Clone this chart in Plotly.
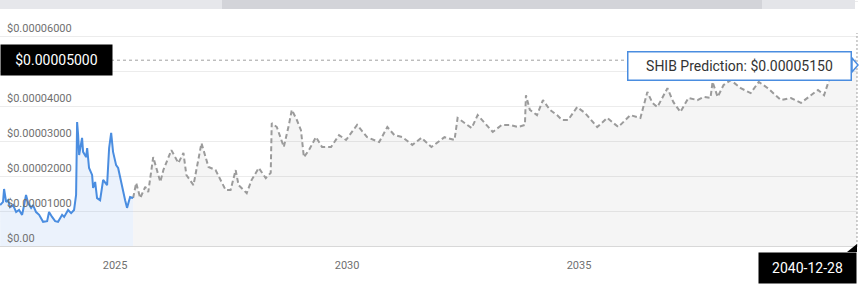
import plotly.graph_objects as go

# ---------------- data ----------------
hist_dates = [
    "2022-07-11", "2022-08-03", "2022-08-11", "2022-08-27", "2022-09-12", "2022-09-27",
    "2022-10-21", "2022-11-14", "2022-12-07", "2022-12-31", "2023-01-08", "2023-01-31",
    "2023-02-16", "2023-03-12", "2023-03-27", "2023-04-20", "2023-05-14", "2023-06-14",
    "2023-07-16", "2023-07-31", "2023-08-24", "2023-09-17", "2023-10-10", "2023-11-11",
    "2023-11-27", "2023-12-28", "2024-01-21", "2024-02-13", "2024-02-29", "2024-03-08",
    "2024-03-16", "2024-03-24", "2024-04-16", "2024-04-24", "2024-05-18", "2024-05-26",
    "2024-06-10", "2024-07-04", "2024-07-12", "2024-07-28", "2024-08-12", "2024-09-05",
    "2024-09-29", "2024-10-30", "2024-11-15", "2024-12-01", "2024-12-16", "2025-01-09",
    "2025-01-25", "2025-02-25", "2025-03-21", "2025-04-05", "2025-04-29", "2025-05-23",
]
hist_values = [
    1.17e-5, 1.26e-5, 1.63e-5, 1.26e-5, 1.31e-5, 1.11e-5,
    1.17e-5, 0.97e-5, 1.03e-5, 0.89e-5, 1.03e-5, 1.46e-5,
    1.23e-5, 1.09e-5, 1.17e-5, 0.97e-5, 0.89e-5, 0.69e-5,
    0.71e-5, 0.97e-5, 0.83e-5, 0.71e-5, 0.69e-5, 0.89e-5,
    0.83e-5, 1.03e-5, 0.94e-5, 1.03e-5, 1.46e-5, 3.54e-5,
    3.17e-5, 2.60e-5, 3.09e-5, 2.69e-5, 2.54e-5, 2.80e-5,
    2.23e-5, 2.03e-5, 1.66e-5, 1.83e-5, 1.37e-5, 1.31e-5,
    1.89e-5, 1.74e-5, 2.80e-5, 3.23e-5, 2.69e-5, 2.31e-5,
    2.23e-5, 1.66e-5, 1.31e-5, 1.09e-5, 1.40e-5, 1.37e-5,
]

pred_dates = [
    "2025-05-23", "2025-06-16", "2025-07-18", "2025-08-26", "2025-09-19", "2025-10-28",
    "2025-12-23", "2026-01-16", "2026-03-20", "2026-05-14", "2026-06-23", "2026-07-16",
    "2026-09-10", "2026-11-12", "2027-01-06", "2027-03-03", "2027-05-21", "2027-06-29",
    "2027-08-08", "2027-08-31", "2027-11-03", "2027-12-12", "2028-02-06", "2028-04-01",
    "2028-05-10", "2028-05-18", "2028-06-27", "2028-08-21", "2028-09-30", "2028-10-23",
    "2028-12-02", "2029-01-03", "2029-01-26", "2029-03-07", "2029-05-01", "2029-06-18",
    "2029-08-28", "2029-10-30", "2029-12-24", "2030-03-21", "2030-06-08", "2030-09-11",
    "2030-11-14", "2031-01-08", "2031-03-12", "2031-05-30", "2031-08-09", "2031-10-27",
    "2032-02-07", "2032-04-26", "2032-05-20", "2032-07-30", "2032-09-08", "2032-10-25",
    "2033-01-04", "2033-02-21", "2033-05-03", "2033-07-05", "2033-09-06", "2033-11-01",
    "2033-11-09", "2033-12-10", "2034-02-04", "2034-03-23", "2034-05-17", "2034-07-12",
    "2034-08-20", "2034-10-07", "2034-12-17", "2035-02-18", "2035-05-24", "2035-08-11",
    "2035-11-06", "2036-02-09", "2036-04-28", "2036-06-22", "2036-08-01", "2036-09-09",
    "2036-11-27", "2037-01-13", "2037-03-09", "2037-05-11", "2037-07-21", "2037-09-07",
    "2037-11-01", "2037-11-17", "2037-12-27", "2038-02-12", "2038-04-09", "2038-06-27",
    "2038-09-13", "2038-11-16", "2039-01-26", "2039-05-09", "2039-07-27", "2039-10-14",
    "2040-02-25", "2040-04-13", "2040-05-22", "2040-06-07", "2040-12-28",
]
pred_values = [
    1.37e-5, 1.80e-5, 1.37e-5, 1.69e-5, 1.54e-5, 2.54e-5,
    1.83e-5, 2.17e-5, 2.74e-5, 2.37e-5, 2.66e-5, 2.03e-5,
    1.74e-5, 2.94e-5, 2.26e-5, 2.17e-5, 1.60e-5, 1.60e-5,
    2.17e-5, 1.74e-5, 1.51e-5, 1.89e-5, 2.23e-5, 1.94e-5,
    2.09e-5, 3.51e-5, 3.40e-5, 2.83e-5, 3.46e-5, 3.89e-5,
    3.60e-5, 3.31e-5, 2.54e-5, 2.74e-5, 3.11e-5, 2.83e-5,
    2.83e-5, 3.17e-5, 3.03e-5, 3.46e-5, 3.11e-5, 2.97e-5,
    3.40e-5, 3.17e-5, 3.11e-5, 2.89e-5, 3.09e-5, 2.83e-5,
    3.11e-5, 3.03e-5, 3.66e-5, 3.46e-5, 3.37e-5, 3.74e-5,
    3.46e-5, 3.26e-5, 3.46e-5, 3.46e-5, 3.40e-5, 3.46e-5,
    4.31e-5, 3.89e-5, 3.74e-5, 4.17e-5, 3.89e-5, 3.74e-5,
    3.60e-5, 3.60e-5, 3.97e-5, 3.80e-5, 3.40e-5, 3.66e-5,
    3.40e-5, 3.74e-5, 3.66e-5, 4.40e-5, 4.09e-5, 3.97e-5,
    4.51e-5, 4.11e-5, 3.83e-5, 4.23e-5, 4.17e-5, 4.26e-5,
    4.23e-5, 4.69e-5, 4.26e-5, 4.60e-5, 4.74e-5, 4.51e-5,
    4.37e-5, 4.69e-5, 4.51e-5, 4.17e-5, 4.23e-5, 4.09e-5,
    4.46e-5, 4.31e-5, 4.74e-5, 5.11e-5, 5.15e-5,
]

# $0.00005000 grid label is covered by the crosshair label in the reference
y_tick_values = [0, 1e-5, 2e-5, 3e-5, 4e-5, 6e-5]
y_tick_labels = ["$0.00", "$0.00001000", "$0.00002000", "$0.00003000",
                 "$0.00004000", "$0.00006000"]
x_tick_values = ["2025-01-01", "2030-01-01", "2035-01-01"]
x_tick_labels = ["2025", "2030", "2035"]

tooltip_date = "2040-12-28"
tooltip_value = 5.15e-5
tooltip_text = "SHIB Prediction: $0.00005150"
crosshair_value = 5.31e-5
crosshair_label = "$0.00005000"

# ---------------- layout helpers ----------------
W, H = 860, 290
ML, MR, MT, MB = 0, 2, 0, 44
PW, PH = W - ML - MR, H - MT - MB
FONT = "Roboto, 'Open Sans', sans-serif"


def px(x):
    return (x - ML) / PW


def py(y):
    return (MT + PH - y) / PH


fig = go.Figure()

fig.add_trace(go.Scatter(
    x=pred_dates, y=pred_values, mode="lines",
    line=dict(color="#9b9b9b", width=2, dash="5px,3px"),
    fill="tozeroy", fillcolor="rgba(0,0,0,0.04)",
    hoverinfo="skip", showlegend=False,
))
fig.add_trace(go.Scatter(
    x=hist_dates, y=hist_values, mode="lines",
    line=dict(color="#4a8de0", width=2),
    fill="tozeroy", fillcolor="rgba(74,141,224,0.11)",
    hoverinfo="skip", showlegend=False,
))

shapes = []
# navigator scrollbar strip at top
shapes.append(dict(type="rect", xref="paper", yref="paper", x0=px(0), x1=px(222),
                   y0=py(9), y1=py(0), fillcolor="#e6e7eb", line_width=0, layer="above"))
shapes.append(dict(type="rect", xref="paper", yref="paper", x0=px(222), x1=px(762),
                   y0=py(9), y1=py(0), fillcolor="#d3d4d9", line_width=0, layer="above"))
shapes.append(dict(type="rect", xref="paper", yref="paper", x0=px(762), x1=px(855),
                   y0=py(9), y1=py(0), fillcolor="#e4e5e9", line_width=0, layer="above"))
# crosshairs
shapes.append(dict(type="line", xref="paper", yref="y", x0=px(111), x1=px(856),
                   y0=crosshair_value, y1=crosshair_value,
                   line=dict(color="#a0a0a0", width=1, dash="3px,3px"), layer="above"))
shapes.append(dict(type="line", xref="x", yref="paper", x0=tooltip_date, x1=tooltip_date,
                   y0=0, y1=py(33),
                   line=dict(color="#a0a0a0", width=1, dash="2px,2px"), layer="above"))
# date label notch
shapes.append(dict(type="path", xref="paper", yref="paper",
                   path=f"M {px(847)} {py(252)} L {px(857)} {py(244)} L {px(857)} {py(252)} Z",
                   fillcolor="#000000", line_width=0, layer="above"))
# tooltip arrow
shapes.append(dict(type="path", xref="paper", yref="paper",
                   path=f"M {px(852)} {py(58)} L {px(858)} {py(65)} L {px(852)} {py(72)} Z",
                   fillcolor="#ffffff", line=dict(color="#4a8de0", width=1.5), layer="above"))

annotations = []
for v, t in zip(y_tick_values, y_tick_labels):
    annotations.append(dict(x=px(5), xref="paper", xanchor="left", y=v, yref="y",
                            yanchor="middle", yshift=8, text=t, showarrow=False,
                            font=dict(family=FONT, size=11, color="#707070")))
annotations.append(dict(x=px(0), xref="paper", xanchor="left", y=crosshair_value, yref="y",
                        yanchor="middle", text=crosshair_label, showarrow=False,
                        width=111, height=30, bgcolor="#000000", borderpad=0,
                        font=dict(family=FONT, size=14, color="#ffffff")))
annotations.append(dict(x=px(857), xref="paper", xanchor="right", y=py(252), yref="paper",
                        yanchor="top", text=tooltip_date, showarrow=False,
                        width=97, height=30, bgcolor="#000000", borderpad=0,
                        font=dict(family=FONT, size=14, color="#ffffff")))
annotations.append(dict(x=px(852), xref="paper", xanchor="right", y=tooltip_value, yref="y",
                        yanchor="middle", text=tooltip_text, showarrow=False,
                        width=222, height=27, bgcolor="#ffffff", bordercolor="#4a8de0",
                        borderwidth=1.5, borderpad=0,
                        font=dict(family=FONT, size=14, color="#333333")))

fig.update_layout(
    width=W, height=H,
    margin=dict(l=ML, r=MR, t=MT, b=MB),
    paper_bgcolor="#ffffff", plot_bgcolor="#ffffff",
    shapes=shapes, annotations=annotations,
    xaxis=dict(type="date", range=["2022-07-10", "2041-01-05"],
               tickvals=x_tick_values, ticktext=x_tick_labels,
               showgrid=False, zeroline=False, showline=True, linecolor="#d8d8d8",
               linewidth=1, ticks="", ticklabelstandoff=9,
               tickfont=dict(family=FONT, size=11, color="#707070")),
    yaxis=dict(range=[0, 7.03e-5], tick0=0, dtick=1e-5, showticklabels=False,
               showgrid=True, gridcolor="#ececec", gridwidth=1, zeroline=False),
)

fig.write_html("out.html")
